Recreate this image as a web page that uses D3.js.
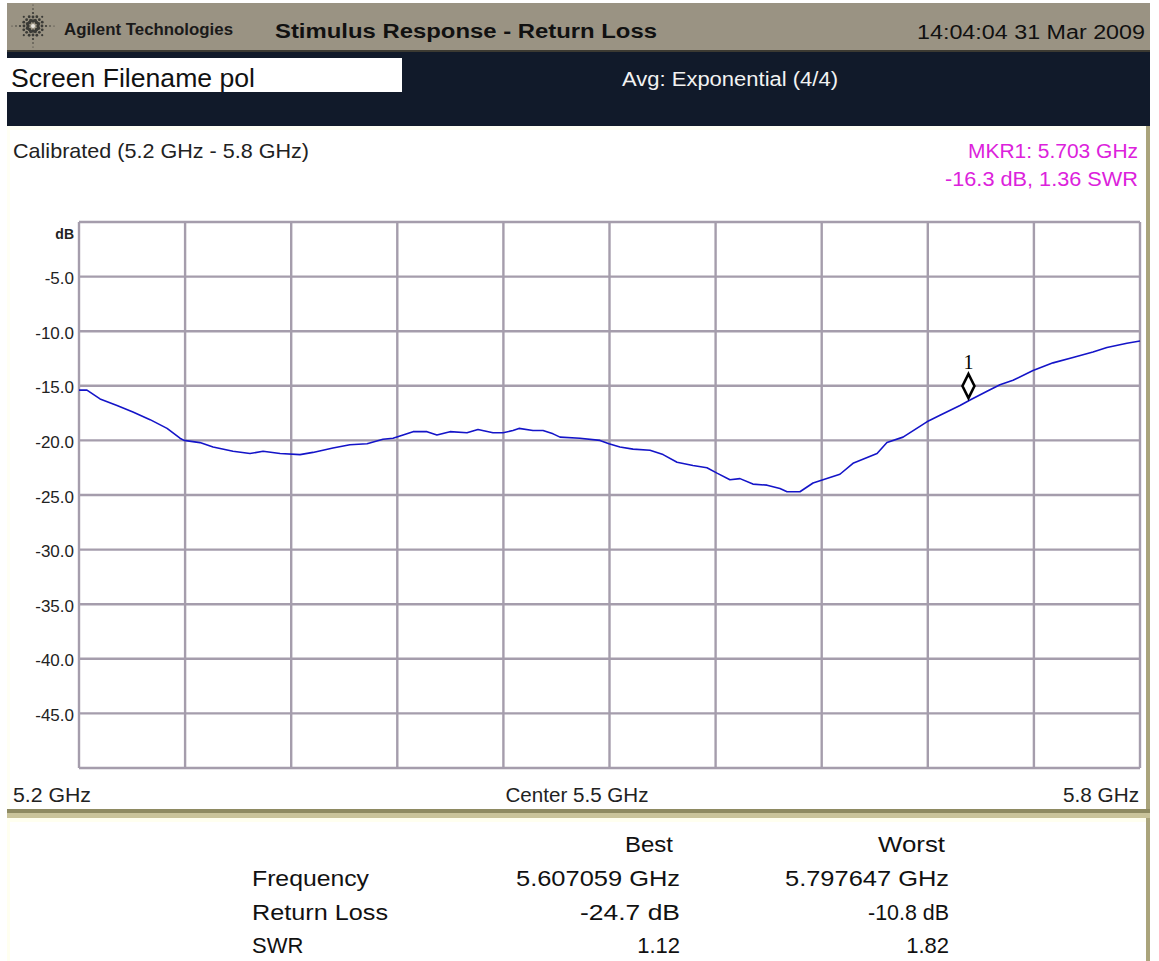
<!DOCTYPE html>
<html><head><meta charset="utf-8">
<script src="https://cdn.jsdelivr.net/npm/d3@7"></script>
<style>
html,body{margin:0;padding:0;background:#fff;}
svg{display:block;}
text{font-family:"Liberation Sans",Arial,sans-serif;}
</style></head>
<body>
<svg id="chart" width="1159" height="961"></svg>
<script>
// ---------- data ----------
const freqGHz = [5.2000,5.2045,5.2119,5.2215,5.2305,5.2402,5.2498,5.2571,5.2594,5.2684,5.2758,5.2871,5.2967,5.3041,5.3137,5.3250,5.3323,5.3436,5.3532,5.3629,5.3719,5.3776,5.3889,5.3968,5.4024,5.4098,5.4194,5.4256,5.4341,5.4398,5.4454,5.4488,5.4567,5.4624,5.4681,5.4720,5.4833,5.4946,5.4997,5.5059,5.5133,5.5229,5.5303,5.5382,5.5472,5.5551,5.5608,5.5681,5.5738,5.5811,5.5891,5.5964,5.6004,5.6077,5.6151,5.6190,5.6303,5.6377,5.6513,5.6569,5.6660,5.6795,5.6869,5.6982,5.7039,5.7135,5.7208,5.7282,5.7395,5.7508,5.7621,5.7734,5.7813,5.7926,5.8000];
const returnLossDb = [-15.4,-15.4,-16.2,-16.8,-17.4,-18.1,-18.9,-19.8,-20.0,-20.2,-20.6,-21.0,-21.2,-21.0,-21.2,-21.3,-21.1,-20.7,-20.4,-20.3,-19.9,-19.8,-19.2,-19.2,-19.5,-19.2,-19.3,-19.0,-19.3,-19.3,-19.1,-18.9,-19.1,-19.1,-19.4,-19.7,-19.8,-20.0,-20.3,-20.6,-20.8,-20.9,-21.3,-22.0,-22.3,-22.5,-23.0,-23.6,-23.5,-24.0,-24.1,-24.4,-24.7,-24.7,-23.9,-23.7,-23.1,-22.1,-21.2,-20.2,-19.7,-18.3,-17.7,-16.8,-16.3,-15.5,-14.9,-14.5,-13.6,-12.9,-12.4,-11.9,-11.5,-11.1,-10.9];
const yTicks = [0,-5,-10,-15,-20,-25,-30,-35,-40,-45,-50];
const xTicks = [5.20,5.26,5.32,5.38,5.44,5.50,5.56,5.62,5.68,5.74,5.80];
const xLabels = ["5.2 GHz","Center 5.5 GHz","5.8 GHz"];
const markerFreq = 5.703, markerDb = -16.3, markerLabel = "1";
const markerText = ["MKR1: 5.703 GHz","-16.3 dB, 1.36 SWR"];
const headerTexts = ["Agilent Technologies","Stimulus Response - Return Loss","14:04:04  31 Mar 2009"];
const subTexts = ["Screen Filename pol","Avg: Exponential (4/4)","Calibrated (5.2 GHz - 5.8 GHz)"];
const tableCols = ["Best","Worst"];
const tableRows = ["Frequency","Return Loss","SWR"];
const bestValues = ["5.607059 GHz","-24.7 dB","1.12"];
const worstValues = ["5.797647 GHz","-10.8 dB","1.82"];

// ---------- drawing ----------
const svg = d3.select("#chart");
function txt(g, x, y, s, o = {}) {
  const t = g.append("text").attr("x", x).attr("y", y).text(s)
    .attr("font-size", o.size || 20)
    .attr("fill", o.fill || "#111")
    .attr("text-anchor", o.anchor || "start");
  if (o.weight) t.attr("font-weight", o.weight);
  if (o.family) t.style("font-family", o.family);
  if (o.len) t.attr("textLength", o.len).attr("lengthAdjust", "spacingAndGlyphs");
  return t;
}

// frame pieces
svg.append("rect").attr("x",7).attr("y",3).attr("width",1143).attr("height",48).attr("fill","#9a9383");
svg.append("rect").attr("x",7).attr("y",50).attr("width",1143).attr("height",2).attr("fill","#3c3a32");
svg.append("rect").attr("x",7).attr("y",52).attr("width",1143).attr("height",74).attr("fill","#111a2a");
svg.append("rect").attr("x",7).attr("y",58).attr("width",395).attr("height",34).attr("fill","#ffffff");
// main panel
svg.append("rect").attr("x",7).attr("y",126).attr("width",1143).attr("height",686).attr("fill","#fffff4");
svg.append("rect").attr("x",10).attr("y",130).attr("width",1136).attr("height",680).attr("fill","#ffffff");
svg.append("rect").attr("x",1146).attr("y",126).attr("width",4).attr("height",690).attr("fill","#aaa47c");
svg.append("rect").attr("x",7).attr("y",809).attr("width",1143).attr("height",4).attr("fill","#8e8a62");
svg.append("rect").attr("x",7).attr("y",813).attr("width",1143).attr("height",5).attr("fill","#c9c39a");
// lower panel
svg.append("rect").attr("x",7).attr("y",818).attr("width",1143).attr("height",143).attr("fill","#fffff0");
svg.append("rect").attr("x",10).attr("y",822).attr("width",1136).attr("height",139).attr("fill","#ffffff");
svg.append("rect").attr("x",1146).attr("y",818).attr("width",4).attr("height",143).attr("fill","#aaa47c");

// logo starburst
const logo = svg.append("g").attr("transform","translate(33,26)");
const rays = d3.range(16).map(i => i * Math.PI / 8);
rays.forEach((a, i) => {
  const long = i % 4 === 0;
  const dists = long ? [5, 9, 13, 17, 21] : (i % 2 === 0 ? [5, 9, 13] : [6, 10]);
  dists.forEach((d, j) => {
    logo.append("circle").attr("cx", Math.cos(a) * d).attr("cy", Math.sin(a) * d)
      .attr("r", Math.max(0.6, 1.7 - j * 0.3)).attr("fill", "#3a3a36");
  });
});
logo.append("circle").attr("r",2).attr("fill","#e8e6e0");

txt(svg, 64, 35, headerTexts[0], {size:16, weight:"bold", len:169, fill:"#1a1a1a"});
txt(svg, 275, 38, headerTexts[1], {size:20, weight:"bold", len:382, fill:"#111"});
txt(svg, 1145, 39, headerTexts[2], {size:20, anchor:"end", len:228, fill:"#111"});
txt(svg, 11, 87, subTexts[0], {size:25, len:244, fill:"#111"});
txt(svg, 622, 86, subTexts[1], {size:20, len:216, fill:"#f2f2f2"});
txt(svg, 13, 158, subTexts[2], {size:21, len:296, fill:"#222"});
txt(svg, 1138, 158, markerText[0], {size:20, anchor:"end", len:170, fill:"#dc22dc"});
txt(svg, 1138, 186, markerText[1], {size:20, anchor:"end", len:193, fill:"#dc22dc"});

// scales
const x = d3.scaleLinear().domain([5.2, 5.8]).range([79, 1140]);
const y = d3.scaleLinear().domain([0, -50]).range([222, 768]);

const grid = svg.append("g");
grid.selectAll("line.v").data(xTicks).join("line").attr("class","v")
  .attr("x1", d => x(d)).attr("x2", d => x(d)).attr("y1", y(0)).attr("y2", y(-50))
  .attr("stroke", "#a59dac").attr("stroke-width", 2.4);
grid.selectAll("line.h").data(yTicks).join("line").attr("class","h")
  .attr("x1", x(5.2)).attr("x2", x(5.8)).attr("y1", d => y(d)).attr("y2", d => y(d))
  .attr("stroke", "#a59dac").attr("stroke-width", 2.4);

const yAxis = d3.axisLeft(y).tickValues(yTicks.filter(d => d !== 0 && d !== -50))
  .tickSize(0).tickPadding(5).tickFormat(d => d.toFixed(1));
const ya = svg.append("g").attr("transform", `translate(${x(5.2)},0)`).call(yAxis);
ya.select(".domain").remove();
ya.selectAll("text").attr("font-size", 17).attr("fill", "#222")
  .style("font-family", '"Liberation Sans",Arial,sans-serif').attr("dy", "0.42em");
txt(svg, 74, 239, "dB", {size:14, weight:"bold", anchor:"end", fill:"#222"});

// x labels (panel positioned)
txt(svg, 13, 802, xLabels[0], {size:20, len:78, fill:"#222"});
txt(svg, 577, 802, xLabels[1], {size:20, anchor:"middle", len:143, fill:"#222"});
txt(svg, 1139, 802, xLabels[2], {size:20, anchor:"end", len:76, fill:"#222"});

// trace
const pts = freqGHz.map((f, i) => [f, returnLossDb[i]]);
const line = d3.line().x(d => x(d[0])).y(d => y(d[1]));
svg.append("path").datum(pts).attr("d", line).attr("fill", "none")
  .attr("stroke", "#1414c8").attr("stroke-width", 1.6).attr("stroke-linejoin", "round");

// marker
const mx = x(markerFreq), my = y(markerDb);
svg.append("path")
  .attr("d", `M${mx},${my-26} L${mx+6},${my-14} L${mx},${my-2} L${mx-6},${my-14} Z`)
  .attr("fill", "#fff").attr("stroke", "#000").attr("stroke-width", 2.6);
txt(svg, mx, my - 31, markerLabel, {size:20, anchor:"middle", family:'"Liberation Serif","Times New Roman",serif', fill:"#000"});

// table
const tg = svg.append("g");
txt(tg, 673, 852, tableCols[0], {size:22, anchor:"end", len:48, fill:"#111"});
txt(tg, 945, 852, tableCols[1], {size:22, anchor:"end", len:67, fill:"#111"});
const rowY = [886, 920, 953];
const rowLen = [117, 136, null];
const bestLen = [164, 100, null];
const worstLen = [164, 81, null];
tableRows.forEach((r, i) => {
  txt(tg, 252, rowY[i], r, {size:22, len:rowLen[i], fill:"#111"});
  txt(tg, 680, rowY[i], bestValues[i], {size:22, anchor:"end", len:bestLen[i], fill:"#111"});
  txt(tg, 949, rowY[i], worstValues[i], {size:22, anchor:"end", len:worstLen[i], fill:"#111"});
});
</script>
</body></html>
